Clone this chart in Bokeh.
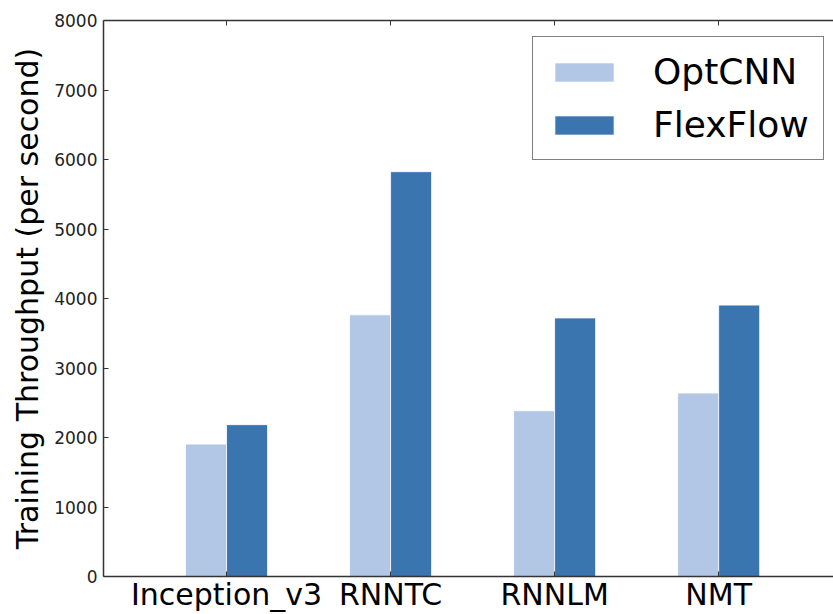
from bokeh.plotting import figure
from bokeh.models import (Range1d, FixedTicker, LinearAxis, Legend, LegendItem,
                          ColumnDataSource, CustomLabelingPolicy)
from bokeh.embed import file_html
from bokeh.resources import INLINE

categories = ["Inception_v3", "RNNTC", "RNNLM", "NMT"]
optcnn = [1905, 3765, 2385, 2640]
flexflow = [2185, 5825, 3720, 3905]
y_ticks = [0, 1000, 2000, 3000, 4000, 5000, 6000, 7000, 8000]

bar_w = 0.25
idx = list(range(len(categories)))
src = ColumnDataSource(dict(
    x_opt=[i - bar_w / 2 for i in idx],
    x_flex=[i + bar_w / 2 for i in idx],
    opt=optcnn,
    flex=flexflow,
))

FONT = "DejaVu Sans"

p = figure(width=833, height=614, output_backend="svg", toolbar_location=None,
           x_range=Range1d(-0.75, 3.70), y_range=Range1d(0, 8000))
p.min_border_left = 103
p.min_border_top = 20
p.min_border_right = 0
p.min_border_bottom = 30
p.outline_line_color = None
p.grid.visible = False
p.background_fill_color = "white"
p.border_fill_color = "white"

r_opt = p.vbar(x="x_opt", top="opt", width=bar_w, source=src,
               fill_color="#b2c6e5", line_color="white", line_width=0.8)
r_flex = p.vbar(x="x_flex", top="flex", width=bar_w, source=src,
                fill_color="#3a75b0", line_color="white", line_width=0.8)

# x axis
xa = p.xaxis[0]
xa.ticker = FixedTicker(ticks=idx)
xa.major_label_overrides = {i: c for i, c in zip(idx, categories)}
xa.major_label_text_font = FONT
xa.major_label_text_font_size = "30px"
xa.major_label_text_color = "black"
xa.major_label_standoff = 0
xa.major_tick_in = 5
xa.major_tick_out = 0
xa.minor_tick_line_color = None
xa.axis_line_color = "#333333"
xa.axis_line_width = 1.5
xa.major_tick_line_color = "#333333"

# y axis
ya = p.yaxis[0]
ya.ticker = FixedTicker(ticks=y_ticks)
ya.major_label_text_font = FONT
ya.major_label_text_font_size = "17px"
ya.major_label_text_color = "#222222"
ya.major_label_standoff = 6
ya.major_tick_in = 5
ya.major_tick_out = 0
ya.minor_tick_line_color = None
ya.axis_line_color = "#333333"
ya.axis_line_width = 1.5
ya.major_tick_line_color = "#333333"
ya.axis_label = "Training Throughput (per second)"
ya.axis_label_text_font = FONT
ya.axis_label_text_font_size = "30px"
ya.axis_label_text_font_style = "normal"
ya.axis_label_text_color = "black"
ya.axis_label_standoff = 6

# top axis (ticks only, no labels)
top = LinearAxis(ticker=FixedTicker(ticks=idx))
top.major_label_policy = CustomLabelingPolicy(code="""
    for (const i of indices)
        indices.unset(i)
    return indices
""")
top.major_label_standoff = 0
top.major_tick_in = 5
top.major_tick_out = 0
top.minor_tick_line_color = None
top.axis_line_color = "#333333"
top.axis_line_width = 1.5
top.major_tick_line_color = "#333333"
p.add_layout(top, "above")

legend = Legend(items=[LegendItem(label="OptCNN", renderers=[r_opt]),
                       LegendItem(label="FlexFlow", renderers=[r_flex])],
                location=(429, 416))
legend.label_text_font = FONT
legend.label_text_font_size = "36px"
legend.label_text_color = "black"
legend.glyph_width = 74
legend.glyph_height = 24
legend.label_standoff = 32
legend.padding = 14
legend.spacing = 12
legend.margin = 0
legend.border_line_color = "black"
legend.border_line_width = 1.5
legend.background_fill_color = "white"
legend.background_fill_alpha = 1.0
p.add_layout(legend, "center")

open("out.html", "w").write(file_html(p, INLINE))
